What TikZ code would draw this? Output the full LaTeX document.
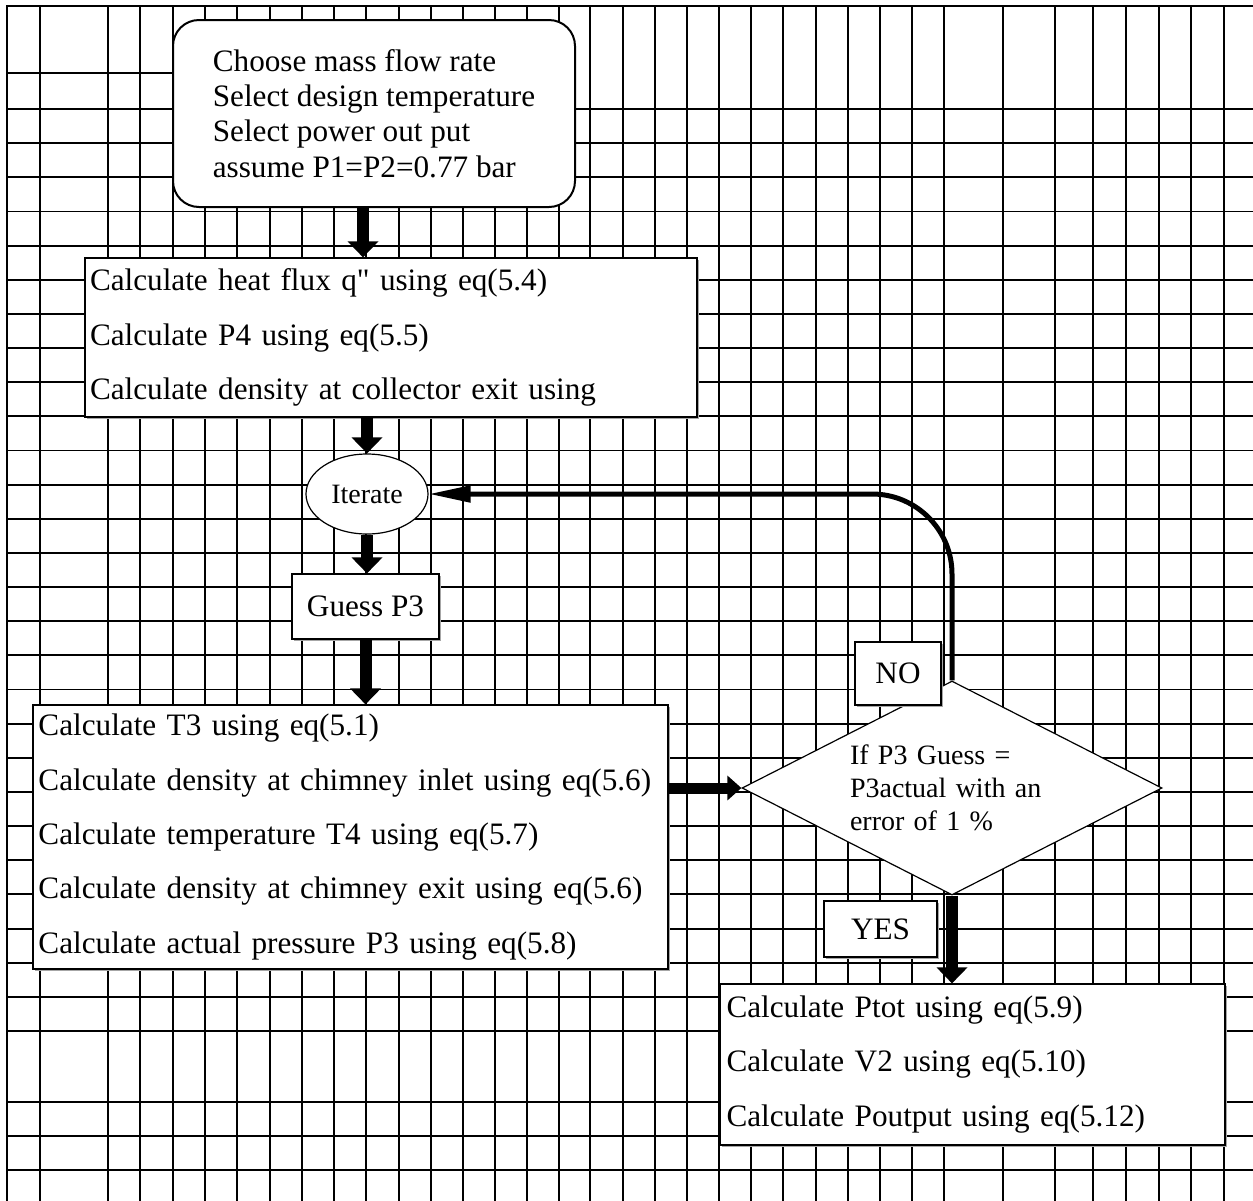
\documentclass[tikz,border=0pt]{standalone}
\usepackage{fontspec}
\setmainfont{Liberation Serif}
\usetikzlibrary{arrows.meta,shapes.geometric,shadows}
\newcommand{\straightquote}{{\XeTeXglyph\XeTeXcharglyph"22 }}
\begin{document}
\begin{tikzpicture}[x=0.5pt,y=-0.5pt,
  gridline/.style={line width=0.95pt, line cap=rect},
  mainfont/.style={font=\fontsize{15.6}{27.2}\selectfont},
  smallfont/.style={font=\fontsize{14}{16.5}\selectfont},
  boxshadow/.style={drop shadow={shadow xshift=0.9pt, shadow yshift=-0.9pt, fill=black!35, opacity=1}},
  stepbox/.style={draw, line width=0.6pt, fill=white, align=left, inner ysep=0pt, mainfont, boxshadow},
  tagbox/.style={draw, line width=0.6pt, fill=white, inner sep=0pt, mainfont, boxshadow},
  startbox/.style={draw, line width=1pt, fill=white, rounded corners=13pt, align=left, inner sep=0pt,
    font=\fontsize{15.6}{17.6}\selectfont},
  decision/.style={diamond, aspect=2, draw, line width=0.6pt, fill=white, inner sep=0pt, align=left, smallfont},
  loopnode/.style={ellipse, draw, line width=0.6pt, fill=white, inner sep=0pt, smallfont},
  bigarrow/.style={line width=6pt, -{Triangle[width=15pt,length=8pt]}},
  sidearrow/.style={line width=5.5pt, -{Triangle[width=12pt,length=7pt]}},
  backarrow/.style={line width=2.5pt, rounded corners=40pt, -{Triangle[width=8pt,length=21pt]}}
]
\useasboundingbox (0,0) rectangle (1253,1200);
\fill[white] (0,0) rectangle (1253,1200);
% background table grid
\foreach \x in {7,40,108,140,173,205,237,270,302,334,366,399,431,463,495,527,559,590,623,655,687,719,751,783,816,848,880,912,944,1003,1055,1093,1126,1159,1191,1224}
  \draw[gridline] (\x,6) -- (\x,1205);
\draw[gridline] (7,6) -- (1260,6);
\draw[gridline] (7,73) -- (300,73);
\foreach \k in {0,...,27}
  \draw[gridline] (7,{109+34.148*\k}) -- (1260,{109+34.148*\k});
\foreach \y in {1101.7,1135.7,1170}
  \draw[gridline] (7,\y) -- (1260,\y);

% nodes
\node[startbox, minimum width=201pt, minimum height=93.5pt] (start) at (374,113.5)
  {Choose mass flow rate\\Select design temperature\\Select power out put\\assume P1=P2=0.77 bar};
\node[stepbox, text width=301pt, inner xsep=2.5pt, minimum height=79.5pt] (heat) at (391,337.5)
  {Calculate heat flux q\straightquote{} using eq(5.4)\\Calculate P4 using eq(5.5)\\Calculate density at collector exit using};
\node[loopnode, minimum width=61pt, minimum height=40pt] (iter) at (367,494) {Iterate};
\node[tagbox, minimum width=73.5pt, minimum height=32.5pt] (guess) at (365.5,606.5) {Guess P3};
\node[stepbox, text width=312pt, inner xsep=2.75pt, minimum height=132pt] (calc) at (350.5,837)
  {Calculate T3 using eq(5.1)\\Calculate density at chimney inlet using eq(5.6)\\Calculate temperature T4 using eq(5.7)\\Calculate density at chimney exit using eq(5.6)\\Calculate actual pressure P3 using eq(5.8)};
\node[decision, text width=102pt, minimum width=210pt, minimum height=107pt] (check) at (952,788)
  {If P3 Guess =\\P3actual with an\\error of 1 \%};
\node[tagbox, minimum width=43pt, minimum height=31.5pt] (no) at (898,673.5) {NO};
\node[tagbox, minimum width=56.5pt, minimum height=28pt] (yes) at (880.5,929) {YES};
\node[stepbox, text width=246pt, inner xsep=3.25pt, minimum height=80.5pt] (final) at (972.5,1064.5)
  {Calculate Ptot using eq(5.9)\\Calculate V2 using eq(5.10)\\Calculate Poutput using eq(5.12)};

% connectors
\draw[bigarrow] (start.south -| 363,0) -- (heat.north -| 363,0);
\draw[bigarrow] (heat.south -| iter.north) -- (iter.north);
\draw[bigarrow] (iter.south) -- (guess.north -| iter.south);
\draw[bigarrow] (guess.south) -- (calc.north -| guess.south);
\draw[sidearrow] (calc.east |- check.west) -- (check.west);
\draw[bigarrow] (check.south) -- (final.north -| check.south);
\draw[backarrow] (check.north) |- (iter.east);
\end{tikzpicture}
\end{document}
